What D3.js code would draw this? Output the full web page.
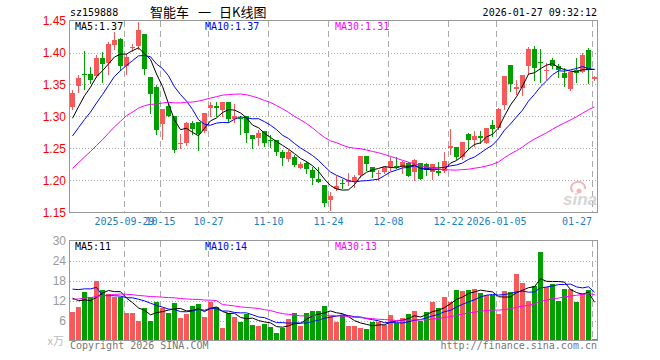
<!DOCTYPE html>
<html>
<head>
<meta charset="utf-8">
<script src="https://cdn.jsdelivr.net/npm/d3@7"></script>
<style>
body { margin: 0; background: #fff; }
text { font-family: "DejaVu Sans Mono", monospace; font-size: 10px; }
</style>
</head>
<body>
<svg id="chart" width="660" height="360"></svg>
<script>
// trading days shown in the window
const dates = [
  "2025-09-16","2025-09-17","2025-09-18","2025-09-19","2025-09-22","2025-09-23","2025-09-24","2025-09-25","2025-09-26","2025-09-29",
  "2025-09-30","2025-10-09","2025-10-10","2025-10-13","2025-10-14","2025-10-15","2025-10-16","2025-10-17","2025-10-20","2025-10-21",
  "2025-10-22","2025-10-23","2025-10-24","2025-10-27","2025-10-28","2025-10-29","2025-10-30","2025-10-31","2025-11-03","2025-11-04",
  "2025-11-05","2025-11-06","2025-11-07","2025-11-10","2025-11-11","2025-11-12","2025-11-13","2025-11-14","2025-11-17","2025-11-18",
  "2025-11-19","2025-11-20","2025-11-21","2025-11-24","2025-11-25","2025-11-26","2025-11-27","2025-11-28","2025-12-01","2025-12-02",
  "2025-12-03","2025-12-04","2025-12-05","2025-12-08","2025-12-09","2025-12-10","2025-12-11","2025-12-12","2025-12-15","2025-12-16",
  "2025-12-17","2025-12-18","2025-12-19","2025-12-22","2025-12-23","2025-12-24","2025-12-25","2025-12-26","2025-12-29","2025-12-30",
  "2025-12-31","2026-01-05","2026-01-06","2026-01-07","2026-01-08","2026-01-09","2026-01-12","2026-01-13","2026-01-14","2026-01-15",
  "2026-01-16","2026-01-19","2026-01-20","2026-01-21","2026-01-22","2026-01-23","2026-01-26","2026-01-27"
];

const open = [
  1.315,1.348,1.367,1.367,1.363,1.392,1.383,1.411,1.421,1.379,
  1.407,1.410,1.429,1.361,1.346,1.288,1.317,1.300,1.258,1.259,
  1.290,1.292,1.277,1.313,1.316,1.310,1.322,1.296,1.297,1.301,
  1.271,1.266,1.277,1.264,1.263,1.244,1.234,1.237,1.220,1.228,
  1.217,1.203,1.193,1.169,1.187,1.196,1.198,1.199,1.208,1.238,
  1.221,1.210,1.213,1.221,1.223,1.221,1.227,1.214,1.227,1.225,
  1.214,1.215,1.215,1.250,1.252,1.236,1.272,1.264,1.269,1.258,
  1.287,1.282,1.318,1.380,1.343,1.345,1.379,1.406,1.385,1.371,
  1.389,1.379,1.368,1.343,1.372,1.370,1.404,1.358
];
const high = [
  1.341,1.365,1.402,1.378,1.396,1.401,1.416,1.432,1.423,1.397,
  1.413,1.447,1.429,1.361,1.349,1.312,1.323,1.300,1.273,1.292,
  1.293,1.292,1.305,1.323,1.323,1.322,1.323,1.320,1.300,1.301,
  1.271,1.279,1.277,1.271,1.263,1.247,1.247,1.240,1.229,1.231,
  1.221,1.221,1.193,1.182,1.207,1.203,1.211,1.209,1.238,1.238,
  1.221,1.216,1.221,1.237,1.237,1.231,1.229,1.233,1.227,1.227,
  1.225,1.229,1.245,1.280,1.252,1.260,1.275,1.277,1.277,1.282,
  1.294,1.314,1.364,1.380,1.357,1.365,1.409,1.410,1.405,1.383,
  1.391,1.382,1.375,1.370,1.391,1.399,1.407,1.363
];
const low = [
  1.312,1.338,1.343,1.352,1.362,1.354,1.367,1.406,1.372,1.367,
  1.402,1.406,1.367,1.305,1.273,1.265,1.300,1.244,1.251,1.256,
  1.273,1.247,1.276,1.300,1.300,1.300,1.292,1.292,1.273,1.260,
  1.250,1.256,1.254,1.253,1.240,1.224,1.231,1.223,1.219,1.211,
  1.195,1.198,1.160,1.154,1.185,1.188,1.193,1.190,1.206,1.216,
  1.206,1.200,1.211,1.216,1.219,1.211,1.207,1.200,1.203,1.208,
  1.202,1.209,1.213,1.242,1.234,1.234,1.249,1.254,1.259,1.258,
  1.270,1.281,1.311,1.340,1.335,1.334,1.367,1.357,1.354,1.359,
  1.375,1.362,1.347,1.342,1.354,1.369,1.352,1.357
];
const close = [
  1.336,1.360,1.366,1.357,1.392,1.382,1.414,1.420,1.379,1.393,
  1.409,1.435,1.374,1.335,1.279,1.312,1.300,1.247,1.259,1.290,
  1.280,1.273,1.305,1.318,1.313,1.322,1.296,1.301,1.296,1.275,
  1.265,1.275,1.258,1.263,1.244,1.235,1.244,1.224,1.226,1.218,
  1.204,1.198,1.165,1.175,1.192,1.195,1.200,1.206,1.238,1.225,
  1.214,1.211,1.221,1.231,1.222,1.229,1.207,1.232,1.203,1.216,
  1.225,1.211,1.230,1.254,1.236,1.260,1.263,1.269,1.266,1.282,
  1.281,1.312,1.364,1.351,1.346,1.365,1.405,1.375,1.383,1.373,
  1.379,1.372,1.360,1.370,1.368,1.396,1.372,1.362
];
// volume, 万
const volume = [
  8.7,10.2,14.7,13.0,18.0,15.3,14.0,13.0,13.0,8.4,
  8.4,6.0,9.7,6.0,11.7,9.9,8.4,11.4,6.7,8.0,
  10.5,11.1,7.0,11.7,10.0,3.7,8.2,7.2,5.5,8.0,
  4.8,4.5,5.0,4.2,2.4,3.8,6.6,8.4,4.5,8.4,
  9.0,9.0,10.5,7.4,5.7,7.7,4.5,4.5,3.9,3.6,
  5.7,5.6,4.8,7.8,5.3,6.9,8.1,9.0,6.0,8.6,
  11.7,9.9,13.2,11.7,15.3,15.0,15.3,15.6,14.4,13.8,
  13.8,8.1,15.0,14.7,20.1,17.4,12.0,16.5,26.7,16.2,
  17.1,12.0,15.6,15.6,11.7,14.4,15.3,0.3
];
// days before the window, only used to start the moving averages
const priorClose = [
  1.09,1.10,1.10,1.11,1.11,1.11,1.12,1.12,1.13,
  1.24,1.25,1.26,1.27,1.27,1.26,1.27,1.27,1.26,1.26,1.27,
  1.23,1.24,1.24,1.25,1.25,1.27,1.28,1.29,1.31
];
const priorVolume = [
  7,7.5,8,8,8,8.3,8,8.5,
  11,12,13,14,12,13,14,12,13,13.4,12,14,
  11.5,12.5,13,13.5,40,14,13.5,14,13.3
];

const priceTicks = [1.45, 1.40, 1.35, 1.30, 1.25, 1.20, 1.15];
const volumeTicks = [30, 24, 18, 12, 6];
const dateTicks = ["2025-09-29","2025-10-15","2025-10-27","2025-11-10","2025-11-24","2025-12-08","2025-12-22","2026-01-05","2026-01-27"];
const dateTickLabels = ["2025-09-29","10-15","10-27","11-10","11-24","12-08","12-22","2026-01-05","01-27"];
const maPeriods = [5, 10, 30];
const maColors = ["#000000", "#0000ff", "#ff00ff"];
const priceMaLabels = ["1.37", "1.37", "1.31"];
const volumeMaLabels = ["11", "14", "13"];

const red = "#f65959", green = "#00a000";

const svg = d3.select("#chart");
const boxLeft = 69.5, boxRight = 597.5;
const priceTop = 20.5, priceBottom = 212.5;
const volTop = 240.5, volBottom = 340.5;

const x = d3.scaleBand().domain(dates).range([69.5, 597.5]).paddingInner(1 / 6).paddingOuter(1 / 12);
const xc = d => x(d) + x.bandwidth() / 2;
const yPrice = d3.scaleLinear().domain([1.15, 1.45]).range([priceBottom, priceTop]);
const yVol = d3.scaleLinear().domain([0, 30]).range([volBottom, volTop]);

function movingAverage(prior, values, n) {
  const all = prior.concat(values);
  return values.map((v, i) => d3.mean(all.slice(prior.length + i - n + 1, prior.length + i + 1)));
}

const rows = dates.map((d, i) => ({
  date: d, open: open[i], high: high[i], low: low[i], close: close[i], volume: volume[i],
  up: close[i] >= open[i]
}));

// ---------- title ----------
svg.append("text").attr("x", 70).attr("y", 16).text("sz159888");
svg.append("text").attr("x", 150).attr("y", 17)
  .style("font-family", "'Noto Sans CJK SC', sans-serif").style("font-size", "13px")
  .text("智能车");
svg.append("text").attr("x", 198).attr("y", 17)
  .style("font-family", "'Noto Sans CJK SC', sans-serif").style("font-size", "13px")
  .text("一");
svg.append("text").attr("x", 219).attr("y", 17)
  .style("font-family", "'Noto Sans CJK SC', sans-serif").style("font-size", "13px")
  .text("日K线图");
svg.append("text").attr("x", 597).attr("y", 16).attr("text-anchor", "end").text("2026-01-27 09:32:12");

// ---------- grid ----------
const grid = svg.append("g").attr("shape-rendering", "crispEdges");
grid.selectAll("line.hp").data(priceTicks.slice(1, -1)).join("line")
  .attr("class", "hp")
  .attr("x1", boxLeft).attr("x2", boxRight)
  .attr("y1", d => Math.round(yPrice(d)) + 0.5).attr("y2", d => Math.round(yPrice(d)) + 0.5)
  .attr("stroke", "#aaa").attr("stroke-dasharray", "1,2");
grid.selectAll("line.hv").data(volumeTicks.slice(1)).join("line")
  .attr("class", "hv")
  .attr("x1", boxLeft).attr("x2", boxRight)
  .attr("y1", d => Math.round(yVol(d)) + 0.5).attr("y2", d => Math.round(yVol(d)) + 0.5)
  .attr("stroke", "#aaa").attr("stroke-dasharray", "1,2");
[[priceTop, priceBottom], [volTop, volBottom]].forEach(([t, b]) => {
  grid.selectAll(null).data(dateTicks).join("line")
    .attr("x1", d => x(d) + 0.5).attr("x2", d => x(d) + 0.5)
    .attr("y1", t).attr("y2", b)
    .attr("stroke", "#aaa").attr("stroke-dasharray", "6,4");
});

// ---------- axes labels ----------
const priceAxis = d3.axisLeft(yPrice).tickValues(priceTicks).tickSize(0).tickPadding(3).tickFormat(d3.format(".2f"));
const pa = svg.append("g").attr("transform", "translate(69,0)").call(priceAxis);
pa.select(".domain").remove();
pa.selectAll("text").attr("fill", "#ff0000")
  .style("font-family", "'Liberation Sans', Arial, sans-serif").style("font-size", "12px");

const volAxis = d3.axisLeft(yVol).tickValues(volumeTicks).tickSize(0).tickPadding(3);
const va = svg.append("g").attr("transform", "translate(69,0)").call(volAxis);
va.select(".domain").remove();
va.selectAll("text").attr("fill", "#999")
  .style("font-family", "'Liberation Sans', Arial, sans-serif").style("font-size", "12px");
svg.append("text").attr("x", 64).attr("y", 345).attr("text-anchor", "end")
  .attr("fill", "#bbb").style("font-family", "'Noto Sans CJK SC', sans-serif").style("font-size", "11px")
  .text("x万");

svg.selectAll("text.date").data(dateTicks).join("text")
  .attr("class", "date")
  .attr("x", (d, i) => i === dateTicks.length - 1 ? x(d) : x(d) + 0.5)
  .attr("y", 225)
  .attr("text-anchor", (d, i) => i === dateTicks.length - 1 ? "end" : "middle")
  .attr("fill", "#1a7fc8")
  .text((d, i) => dateTickLabels[i]);

// ---------- watermark ----------
const wm = svg.append("g");
wm.append("path").attr("d", "M573,192 a7,6 0 1,1 12,-3").attr("fill", "none").attr("stroke", "#f2b8b8").attr("stroke-width", 2);
wm.append("circle").attr("cx", 579).attr("cy", 191).attr("r", 2.5).attr("fill", "#f2b8b8");
wm.append("text").attr("x", 563).attr("y", 205)
  .style("font-family", "'Liberation Sans', sans-serif").style("font-size", "17px")
  .style("font-style", "italic").style("font-weight", "bold")
  .attr("fill", "#d6d6d6").text("sina");

// ---------- candles ----------
const candles = svg.append("g").attr("shape-rendering", "crispEdges");
candles.selectAll("line.wick").data(rows).join("line")
  .attr("class", "wick")
  .attr("x1", d => xc(d.date)).attr("x2", d => xc(d.date))
  .attr("y1", d => Math.round(yPrice(d.high))).attr("y2", d => Math.round(yPrice(d.low)) + 1)
  .attr("stroke", d => d.up ? red : green);
candles.selectAll("rect.body").data(rows).join("rect")
  .attr("class", "body")
  .attr("x", d => x(d.date)).attr("width", x.bandwidth())
  .attr("y", d => Math.round(yPrice(Math.max(d.open, d.close))))
  .attr("height", d => Math.max(1, Math.round(yPrice(Math.min(d.open, d.close))) - Math.round(yPrice(Math.max(d.open, d.close)))))
  .attr("fill", d => d.up ? red : green);

// ---------- volume bars ----------
svg.append("g").attr("shape-rendering", "crispEdges")
  .selectAll("rect").data(rows).join("rect")
  .attr("x", d => x(d.date)).attr("width", x.bandwidth())
  .attr("y", d => Math.round(yVol(d.volume)))
  .attr("height", d => 340 - Math.round(yVol(d.volume)))
  .attr("fill", d => d.up ? red : green);

// ---------- moving averages ----------
maPeriods.forEach((n, k) => {
  const pm = movingAverage(priorClose, close, n);
  const vm = movingAverage(priorVolume, volume, n);
  svg.append("path").datum(pm)
    .attr("fill", "none").attr("stroke", maColors[k]).attr("stroke-width", 1)
    .attr("d", d3.line().x((d, i) => xc(dates[i])).y(d => yPrice(d)));
  svg.append("path").datum(vm)
    .attr("fill", "none").attr("stroke", maColors[k]).attr("stroke-width", 1)
    .attr("d", d3.line().x((d, i) => xc(dates[i])).y(d => yVol(d)));
});

// ---------- frames ----------
svg.append("rect").attr("x", boxLeft).attr("y", priceTop).attr("width", boxRight - boxLeft).attr("height", priceBottom - priceTop)
  .attr("fill", "none").attr("stroke", "#999").attr("shape-rendering", "crispEdges");
svg.append("rect").attr("x", boxLeft).attr("y", volTop).attr("width", boxRight - boxLeft).attr("height", volBottom - volTop)
  .attr("fill", "none").attr("stroke", "#999").attr("shape-rendering", "crispEdges");

// ---------- legends ----------
const legendX = [75, 205, 335];
maPeriods.forEach((n, k) => {
  svg.append("text").attr("x", legendX[k]).attr("y", 30).attr("fill", maColors[k])
    .text("MA" + n + ":" + priceMaLabels[k]);
  svg.append("text").attr("x", legendX[k]).attr("y", 250).attr("fill", maColors[k])
    .text("MA" + n + ":" + volumeMaLabels[k]);
});

svg.append("text").attr("x", 70).attr("y", 349).attr("fill", "#777").text("Copyright 2026 SINA.COM");
svg.append("text").attr("x", 597).attr("y", 349).attr("text-anchor", "end").attr("fill", "#777").text("http://finance.sina.com.cn");
</script>
</body>
</html>
